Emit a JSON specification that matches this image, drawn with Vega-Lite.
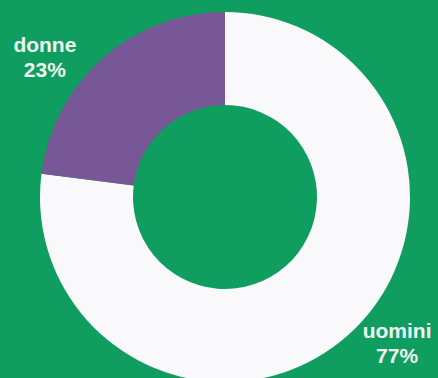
{
  "$schema": "https://vega.github.io/schema/vega-lite/v6.json",
  "width": 426,
  "height": 362,
  "autosize": {"type": "none"},
  "padding": {"left": 12, "top": 16, "right": 0, "bottom": 0},
  "background": "#0f9d60",
  "config": {"view": {"stroke": null}},
  "data": {
    "values": [
      {"genere": "uomini", "quota": 77, "ordine": 1, "etichetta": "uomini\n77%"},
      {"genere": "donne", "quota": 23, "ordine": 2, "etichetta": "donne\n23%"}
    ]
  },
  "encoding": {
    "theta": {"field": "quota", "type": "quantitative", "stack": true},
    "order": {"field": "ordine", "type": "quantitative"}
  },
  "layer": [
    {
      "mark": {"type": "arc", "outerRadius": 185, "innerRadius": 92},
      "encoding": {
        "color": {
          "field": "genere",
          "type": "nominal",
          "scale": {"domain": ["uomini", "donne"], "range": ["#f9f8fb", "#785797"]},
          "legend": null
        }
      }
    },
    {
      "mark": {"type": "text", "radius": 227, "dx": -30, "dy": 19, "font": "Liberation Sans", "fontWeight": "bold", "fontSize": 21, "lineHeight": 25, "lineBreak": "\n", "color": "#eef7f2", "align": "center", "baseline": "middle"},
      "encoding": {
        "text": {"field": "etichetta"},
        "opacity": {"condition": {"test": "datum.genere === 'donne'", "value": 1}, "value": 0}
      }
    },
    {
      "mark": {"type": "text", "radius": 227, "dx": 22, "dy": -35, "font": "Liberation Sans", "fontWeight": "bold", "fontSize": 21, "lineHeight": 25, "lineBreak": "\n", "color": "#eef7f2", "align": "center", "baseline": "middle"},
      "encoding": {
        "text": {"field": "etichetta"},
        "opacity": {"condition": {"test": "datum.genere === 'uomini'", "value": 1}, "value": 0}
      }
    }
  ]
}
